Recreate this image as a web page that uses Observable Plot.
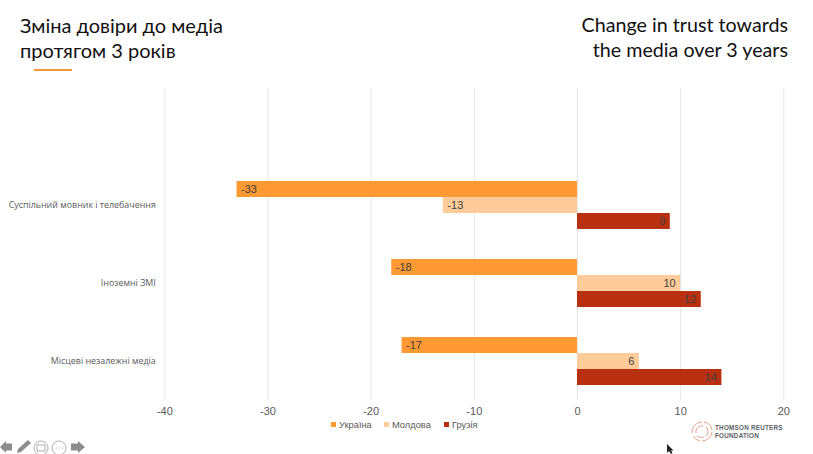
<!DOCTYPE html>
<html><head><meta charset="utf-8">
<script src="https://cdn.jsdelivr.net/npm/d3@7"></script>
<script src="https://cdn.jsdelivr.net/npm/@observablehq/plot@0.6"></script>
<style>
html,body{margin:0;padding:0;background:#fff;overflow:hidden}
#page{position:relative;width:813px;height:454px;overflow:hidden}
#chart{position:absolute;left:0;top:0}
.t{position:absolute;font-family:Lato,sans-serif;line-height:25px;color:#111;white-space:nowrap}
.leg{position:absolute;top:419px;font:9.3px "Liberation Sans",sans-serif;color:#595959;line-height:12px;white-space:nowrap}
.leg i{position:absolute;left:-8px;top:3px;width:5px;height:5px}
.abs{position:absolute}
</style></head>
<body><div id="page">
<div class="t" style="left:20px;top:13px;font-size:20px">Зміна довіри до медіа<br>протягом 3 років</div>
<div class="t" style="right:25px;top:12px;text-align:right;font-size:19.7px">Change in trust towards<br>the media over 3 years</div>
<div class="abs" style="left:34px;top:69px;width:38px;height:2px;background:#F39A3B"></div>
<div id="chart"></div>
<div id="legend"></div>
<svg class="abs" style="left:691px;top:421px" width="22" height="21" viewBox="0 0 22 21" fill="none" stroke="#EBA48C" stroke-width="1">
<path d="M1 12 A10 10 0 0 1 11 1"/><path d="M13 1 A10 10 0 0 1 21 9"/><path d="M21 11 A10 10 0 0 1 11 20"/><path d="M9 20 A10 10 0 0 1 2 15"/>
<path d="M5 12 A6 6 0 0 1 12 5"/><path d="M15 6 A6 6 0 0 1 15 15"/><path d="M6 15 A7 7 0 0 0 13 16"/>
</svg>
<div class="abs" style="left:715px;top:424px;font:bold 6.3px/8px 'Liberation Sans',sans-serif;color:#5a5f66;letter-spacing:.25px;white-space:nowrap">THOMSON REUTERS<br>FOUNDATION</div>
<svg class="abs" style="left:0;top:439px" width="90" height="15" viewBox="0 0 90 15">
<path d="M0 8 L6 2 V4.5 H12 V11.5 H6 V14Z" fill="#8c8c8c"/>
<path d="M17 14 L18 10 L28 1 L31 4 L21 13Z" fill="#8c8c8c"/>
<g fill="none" stroke="#8c8c8c" stroke-width=".7"><circle cx="41" cy="9" r="7"/><rect x="37" y="6" width="8" height="6"/><circle cx="59" cy="9" r="7"/><path d="M56 9h1M59 9h1M62 9h1"/></g>
<path d="M85 8 L78 2 V4.5 H71 V11.5 H78 V14Z" fill="#8c8c8c"/>
</svg>
<svg class="abs" style="left:666px;top:444px" width="9" height="11" viewBox="0 0 9 11"><path d="M1 0 V9 L3 7 L5 10 L6.5 9 L5 6.5 H7.5Z" fill="#222"/></svg>
</div>
<script>
const categories = ["Суспільний мовник і телебачення", "Іноземні ЗМІ", "Місцеві незалежні медіа"];
const spacer = " ";
const seriesNames = ["Україна", "Молдова", "Грузія"];
const seriesColors = ["#FF9933", "#FFCC99", "#B93010"];
const ukraine = [-33, -18, -17];
const moldova = [-13, 10, 6];
const georgia = [9, 12, 14];
const xTicks = [-40, -30, -20, -10, 0, 10, 20];

const seriesValues = [ukraine, moldova, georgia];
const rows = seriesNames.flatMap((s, i) => categories.map((c, j) => ({category: c, series: s, value: seriesValues[i][j]})));
const bands = [spacer, ...categories];
const gridRows = bands.flatMap(b => xTicks.map(t => ({band: b, tick: t})));

const plot = Plot.plot({
  width: 813, height: 454,
  marginLeft: 164.3, marginRight: 29.7, marginTop: 88, marginBottom: 54,
  style: {background: "transparent", overflow: "visible"},
  x: {domain: [-40, 20], label: null},
  y: {domain: seriesNames, axis: null, paddingInner: 0, paddingOuter: 0.9375, label: null},
  fy: {domain: bands, padding: 0, label: null},
  color: {domain: seriesNames, range: seriesColors},
  marks: [
    Plot.ruleX(gridRows, {x: "tick", fy: "band", stroke: "#e6e6e6", strokeWidth: 1}),
    Plot.barX(rows, {x: "value", y: "series", fy: "category", fill: "series"}),
    Plot.text(rows.filter(d => d.value < 0), {x: "value", y: "series", fy: "category", text: d => String(d.value), textAnchor: "start", dx: 4, fontSize: 11, fontFamily: "Liberation Sans", fill: "#404040"}),
    Plot.text(rows.filter(d => d.value > 0), {x: "value", y: "series", fy: "category", text: d => String(d.value), textAnchor: "end", dx: -5, fontSize: 11, fontFamily: "Liberation Sans", fill: "#404040"}),
    Plot.axisX(xTicks, {anchor: "bottom", tickSize: 0, tickPadding: 7, tickFormat: d => String(d), fontSize: 11, fontFamily: "Liberation Sans", color: "#595959", label: null}),
    Plot.axisFy({anchor: "left", tickSize: 0, tickPadding: 9, fontSize: 8.9, fontFamily: "Open Sans", color: "#595959", label: null})
  ]
});
document.getElementById("chart").append(plot);

const legendX = [339, 392, 452];
const legend = document.getElementById("legend");
seriesNames.forEach((s, i) => {
  const d = document.createElement("div");
  d.className = "leg";
  d.style.left = legendX[i] + "px";
  d.textContent = s;
  const sw = document.createElement("i");
  sw.style.background = seriesColors[i];
  d.append(sw);
  legend.append(d);
});
</script>
</body></html>
